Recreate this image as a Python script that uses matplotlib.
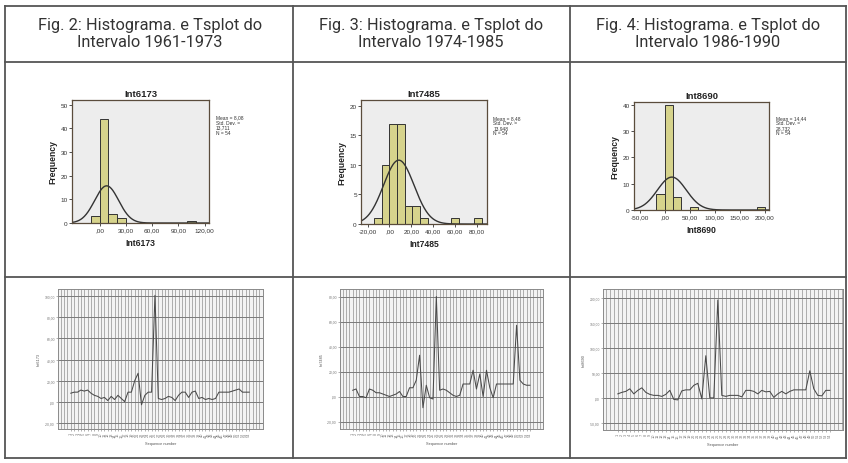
import numpy as np
import matplotlib
matplotlib.use("Agg")
import matplotlib.pyplot as plt
from matplotlib.lines import Line2D

plt.rcParams['font.family'] = ['Liberation Sans', 'DejaVu Sans']

# header titles
titles = ["Fig. 2: Histograma. e Tsplot do\nIntervalo 1961-1973",
          "Fig. 3: Histograma. e Tsplot do\nIntervalo 1974-1985",
          "Fig. 4: Histograma. e Tsplot do\nIntervalo 1986-1990"]
var_names = ["Int6173", "Int7485", "Int8690"]

# histogram bins (left edge), widths and counts
bins1 = [-10, 0, 10, 20, 100]
counts1 = [3, 44, 4, 2, 1]
width1 = 10
bins2 = [-14, -7, 0, 7, 14, 21, 28, 56, 77]
counts2 = [1, 10, 17, 17, 3, 3, 1, 1, 1]
width2 = 7
bins3 = [-16.67, 0, 16.67, 50, 183.33]
counts3 = [6, 40, 5, 1, 1]
width3 = 16.67

means = [8.08, 8.48, 14.44]
sds = [13.711, 13.948, 28.732]
n_obs = 54
stat_text = ["Mean = 8,08\nStd. Dev. =\n13,711\nN = 54",
             "Mean = 8,48\nStd. Dev. =\n13,948\nN = 54",
             "Mean = 14,44\nStd. Dev. =\n28,732\nN = 54"]
hist_xticks = [[0, 30, 60, 90, 120], [-20, 0, 20, 40, 60, 80], [-50, 0, 50, 100, 150, 200]]
hist_xticklabels = [[",00", "30,00", "60,00", "90,00", "120,00"],
                    ["-20,00", ",00", "20,00", "40,00", "60,00", "80,00"],
                    ["-50,00", ",00", "50,00", "100,00", "150,00", "200,00"]]
hist_yticks = [[0, 10, 20, 30, 40, 50], [0, 5, 10, 15, 20], [0, 10, 20, 30, 40]]

# time series (54 sequence values each)
ts1 = [8, 9, 9, 11, 10, 11, 8, 6, 5, 3, 4, 1, 5, 2, 6, 3, 0, 9, 9, 20,
       27, -3, 6, 9, 9, 101, 3, 2, 3, 5, 4, 1, 6, 9, 9, 4, 9, 10, 3, 4,
       2, 3, 2, 3, 9, 9, 9, 9, 10, 11, 12, 9, 9, 9]
ts2 = [5, 6, 0, 0, -1, 6, 5, 3, 3, 2, 1, 0, 1, 2, 4, 0, 0, 7, 7, 13,
       33, -9, 9, -1, -2, 80, 5, 6, 5, 3, 1, 0, 1, 10, 10, 10, 21, 6, 18, 0,
       21, 7, -1, 10, 10, 10, 10, 10, 10, 57, 13, 10, 9, 9]
ts3 = [8, 11, 13, 18, 8, 15, 20, 11, 7, 5, 5, 3, 7, 15, -3, -4, 14, 16, 16, 25,
       29, -2, 84, 0, 0, 195, 5, 3, 5, 5, 5, 2, 15, 15, 13, 8, 15, 12, 13, 1,
       8, 13, 8, 13, 16, 16, 16, 16, 54, 18, 5, 4, 15, 15]
ts_yticks = [[-20, 0, 20, 40, 60, 80, 100], [-20, 0, 20, 40, 60, 80], [-50, 0, 50, 100, 150, 200]]
ts_yticklabels = [["-20,00", ",00", "20,00", "40,00", "60,00", "80,00", "100,00"],
                  ["-20,00", ",00", "20,00", "40,00", "60,00", "80,00"],
                  ["-50,00", ",00", "50,00", "100,00", "150,00", "200,00"]]

W, H = 848, 464
fig = plt.figure(figsize=(W / 100, H / 100), dpi=100)


def px_axes(left, top, right, bottom):
    return fig.add_axes([left / W, 1 - bottom / H, (right - left) / W, (bottom - top) / H])


# table grid
grid_col = "#555555"
for y in [7, 63, 278, 459]:
    fig.add_artist(Line2D([5 / W, 846 / W], [1 - y / H, 1 - y / H], color=grid_col, lw=1.3))
for x in [5, 293, 570, 846]:
    fig.add_artist(Line2D([x / W, x / W], [1 - 7 / H, 1 - 459 / H], color=grid_col, lw=1.3))

col_centers = [150, 431, 708]
for cx, t in zip(col_centers, titles):
    fig.text(cx / W, 1 - 34 / H, t, ha="center", va="center", fontsize=11.8,
             family="Roboto", color="#333333", linespacing=1.2)

# histograms
hist_boxes = [(72, 101, 209, 224), (361, 101, 487, 225), (634, 103, 769, 211)]
hist_xlims = [(-31.5, 125), (-26, 89), (-61, 208)]
hist_ylims = [(0, 52), (0, 21), (0, 41)]
hist_data = [(bins1, counts1, width1), (bins2, counts2, width2), (bins3, counts3, width3)]
for k in range(3):
    ax = px_axes(*hist_boxes[k])
    b, c, w = hist_data[k]
    ax.set_facecolor("#ededed")
    ax.bar(b, c, width=w, align="edge", color="#d6d38c", edgecolor="#333333", linewidth=0.7)
    xs = np.linspace(hist_xlims[k][0], hist_xlims[k][1], 300)
    ys = n_obs * w * np.exp(-0.5 * ((xs - means[k]) / sds[k]) ** 2) / (sds[k] * np.sqrt(2 * np.pi))
    ax.plot(xs, ys, color="#333333", lw=1.0)
    ax.set_xlim(hist_xlims[k])
    ax.set_ylim(hist_ylims[k])
    ax.set_xticks(hist_xticks[k])
    ax.set_xticklabels(hist_xticklabels[k])
    ax.set_yticks(hist_yticks[k])
    ax.tick_params(labelsize=4.6, length=2, width=0.6, pad=1, colors="#333333")
    for s in ax.spines.values():
        s.set_color("#5a4c3c")
        s.set_linewidth(0.9)
    ax.set_title(var_names[k], fontsize=6.8, fontweight="bold", pad=3, color="#222222")
    ax.set_xlabel(var_names[k], fontsize=6.2, fontweight="bold", labelpad=4, color="#222222")
    ax.set_ylabel("Frequency", fontsize=6.2, fontweight="bold", labelpad=2, color="#222222")
    ax.text(1.05, 0.88, stat_text[k], transform=ax.transAxes, fontsize=3.5,
            va="top", ha="left", color="#333333", linespacing=1.0)

# time series plots
ts_boxes = [(58, 290, 263, 430), (340, 290, 543, 430), (603, 290, 843, 431)]
ts_xlims = [(-3.8, 57.1), (-3.8, 56.9), (-3.7, 56.3)]
ts_ylims = [(-26, 107), (-26, 86), (-64, 217)]
ts_data = [ts1, ts2, ts3]
for k in range(3):
    ax = px_axes(*ts_boxes[k])
    ax.set_facecolor("#f3f3f3")
    seq = np.arange(len(ts_data[k]))
    lo, hi = ts_xlims[k]
    for gx in range(int(np.ceil(lo)), int(np.floor(hi)) + 1):
        ax.axvline(gx, color="#9a9a9a", lw=0.55, zorder=1)
    for gy in ts_yticks[k]:
        ax.axhline(gy, color="#7a7a7a", lw=0.7, zorder=1)
    ax.plot(seq, ts_data[k], color="#4a4a4a", lw=0.75, zorder=3)
    ax.set_xlim(ts_xlims[k])
    ax.set_ylim(ts_ylims[k])
    ax.set_xticks(seq)
    ax.set_xticklabels(["%d" % (i + 1) for i in seq], rotation=90)
    ax.set_yticks(ts_yticks[k])
    ax.set_yticklabels(ts_yticklabels[k])
    ax.tick_params(axis="x", labelsize=2.8, length=1.2, width=0.4, pad=1, colors="#777777")
    ax.tick_params(axis="y", labelsize=2.4, length=1.2, width=0.4, pad=1, colors="#777777")
    for s in ax.spines.values():
        s.set_color("#8a8a8a")
        s.set_linewidth(0.7)
    ax.set_xlabel("Sequence number", fontsize=2.8, labelpad=3, color="#555555")
    ax.set_ylabel(var_names[k], fontsize=2.8, labelpad=3, color="#555555")

fig.savefig("out.png", dpi=100)
